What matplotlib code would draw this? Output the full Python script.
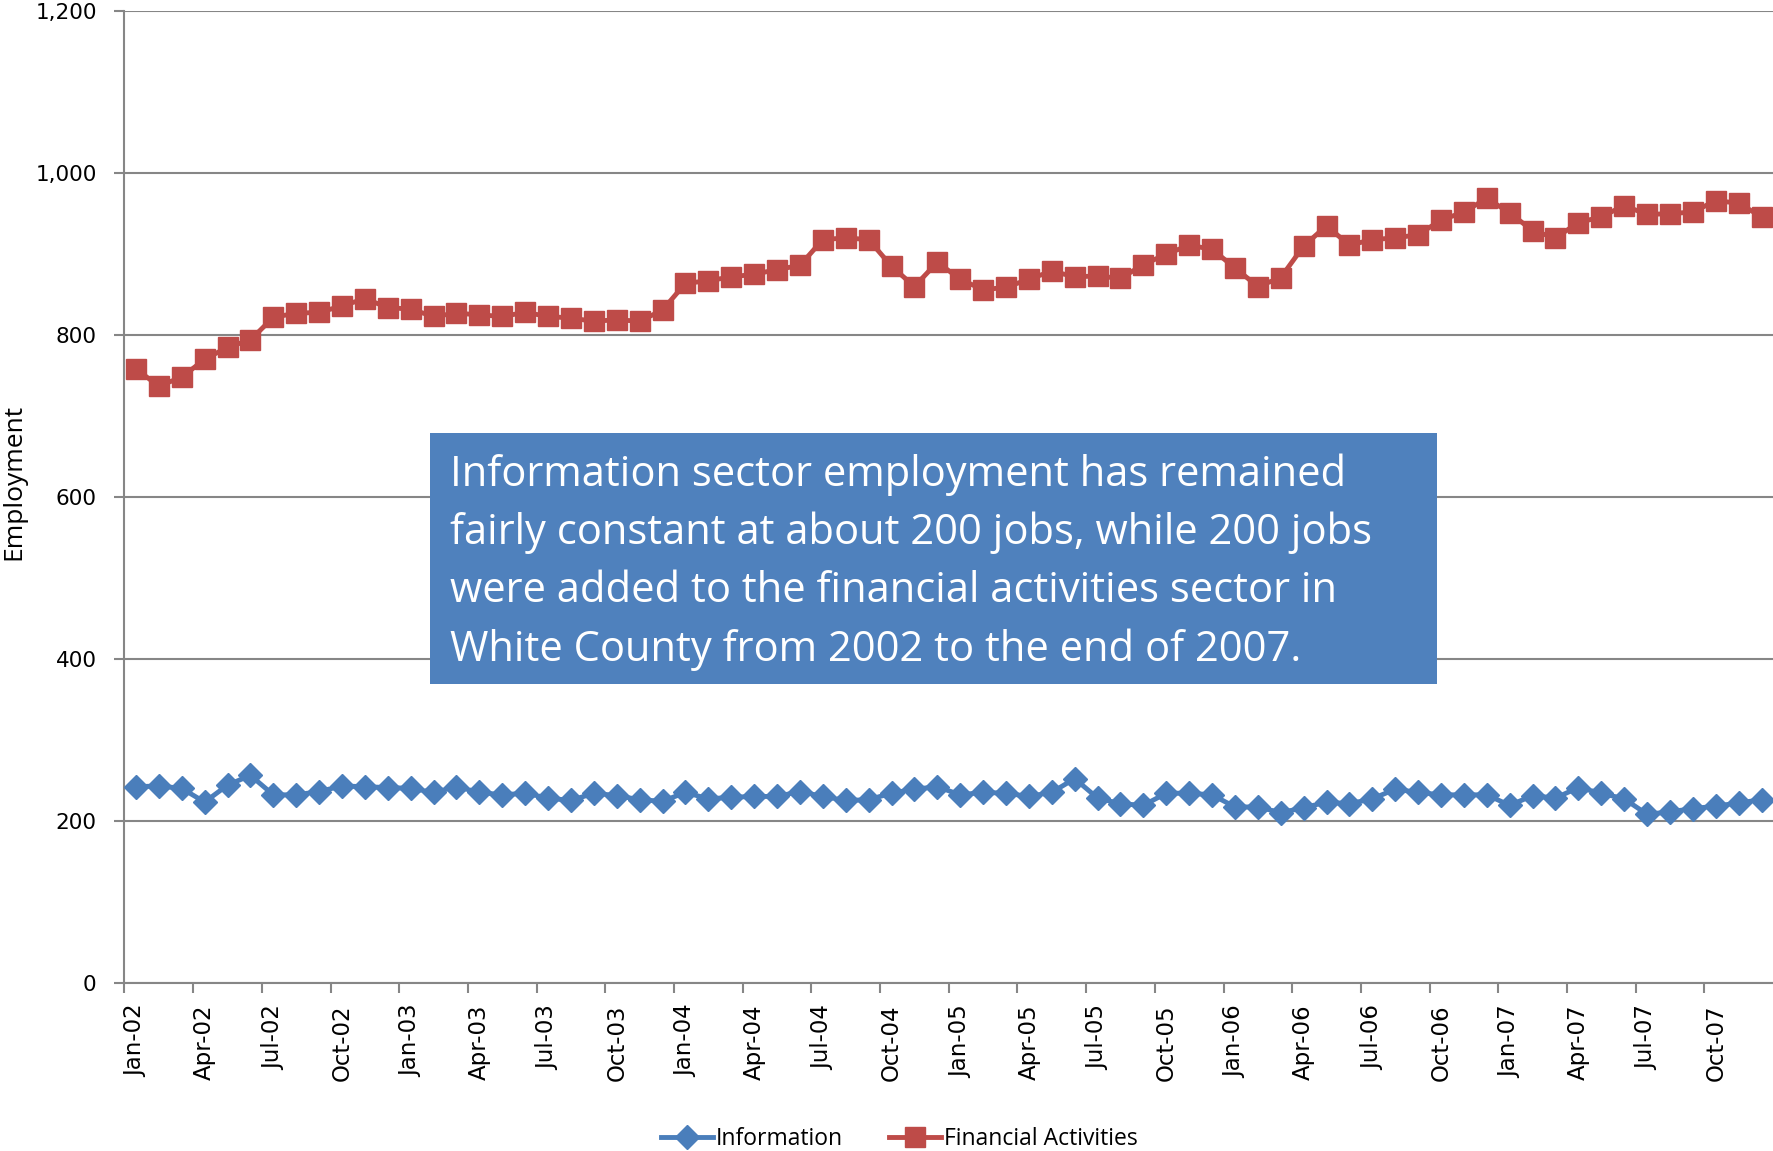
import numpy as np
import matplotlib
matplotlib.use("Agg")
import matplotlib.pyplot as plt
from matplotlib.patches import Rectangle

# monthly data, Jan-02 .. Dec-07
months = ["Jan", "Feb", "Mar", "Apr", "May", "Jun",
          "Jul", "Aug", "Sep", "Oct", "Nov", "Dec"]
years = ["02", "03", "04", "05", "06", "07"]
labels = [m + "-" + y for y in years for m in months]

information = [242, 243, 240, 223, 244, 256, 232, 232, 236, 243, 242, 241,
               240, 235, 242, 235, 232, 234, 228, 225, 234, 231, 226, 224,
               235, 227, 229, 230, 230, 236, 230, 225, 226, 234, 239, 242,
               232, 235, 234, 230, 235, 252, 228, 221, 219, 234, 234, 232,
               217, 217, 210, 216, 223, 221, 227, 239, 235, 232, 232, 232,
               219, 231, 228, 241, 234, 227, 208, 211, 215, 218, 222, 226]

financial = [758, 737, 748, 770, 785, 794, 822, 827, 828, 836, 845, 834,
             832, 823, 827, 825, 823, 828, 823, 821, 817, 819, 817, 831,
             864, 867, 872, 875, 881, 886, 918, 920, 918, 885, 860, 890,
             869, 856, 859, 869, 879, 872, 873, 870, 887, 900, 911, 906,
             883, 860, 871, 910, 935, 911, 918, 920, 924, 942, 952, 969,
             951, 929, 920, 939, 946, 960, 949, 950, 952, 966, 963, 946]

note = ("Information sector employment has remained\n"
        "fairly constant at about 200 jobs, while 200 jobs\n"
        "were added to the financial activities sector in\n"
        "White County from 2002 to the end of 2007.")

blue = "#4A7EBB"
red = "#BE4B48"
grid_c = "#868686"

W, H = 1773, 1151
fig = plt.figure(figsize=(W / 100, H / 100), dpi=100)
ax = fig.add_axes([124.5 / W, 1 - 982.6 / H, 1 - 124.5 / W, (982.6 - 11.3) / H])

x = np.arange(len(labels))
ax.plot(x, information, color=blue, lw=3.5, marker="D", ms=12,
        label="Information", zorder=3)
ax.plot(x, financial, color=red, lw=3.5, marker="s", ms=14,
        label="Financial Activities", zorder=3)

ax.set_xlim(-0.5, len(labels) - 0.5)
ax.set_ylim(0, 1200)
ax.set_yticks(np.arange(0, 1201, 200))
ax.set_yticklabels([f"{v:,}" for v in range(0, 1201, 200)])
ax.yaxis.grid(True, color=grid_c, lw=1.5)
ax.set_axisbelow(True)

# tick marks between categories, labels on the points
ax.set_xticks(np.arange(0, len(labels), 3) - 0.5)
ax.set_xticklabels([])
ax.set_xticks(np.arange(0, len(labels), 3), minor=True)
ax.set_xticklabels(labels[::3], minor=True, rotation=90)
ax.tick_params(axis="x", which="major", length=7, width=1.5, color=grid_c)
ax.tick_params(axis="x", which="minor", length=0, pad=16, labelsize=16.5)
ax.tick_params(axis="y", length=7, width=1.5, color=grid_c, pad=13,
               labelsize=15.5)

for s in ["top", "right"]:
    ax.spines[s].set_visible(False)
for s in ["left", "bottom"]:
    ax.spines[s].set_color(grid_c)
    ax.spines[s].set_linewidth(1.5)

fig.text(14 / W, 1 - 482 / H, "Employment", rotation=90, ha="center",
         va="center", fontsize=19, family="Open Sans")

# text box
bx0, bx1, by0, by1 = 430, 1437, 433, 684
fig.patches.append(Rectangle((bx0 / W, 1 - by1 / H), (bx1 - bx0) / W,
                             (by1 - by0) / H, transform=fig.transFigure,
                             facecolor="#4F81BD", edgecolor="none", zorder=5))
fig.text(450 / W, 1 - 562 / H, note, ha="left", va="center", color="white",
         fontsize=30, family="Open Sans", linespacing=1.49, zorder=6)

fig.legend(loc="center", bbox_to_anchor=(899 / W, 1 - 1139 / H), ncol=2,
           frameon=False, prop={"family": "Open Sans", "size": 16.5},
           handlelength=2.3, columnspacing=2.0, handletextpad=0.1)

fig.savefig("out.png", dpi=100)
